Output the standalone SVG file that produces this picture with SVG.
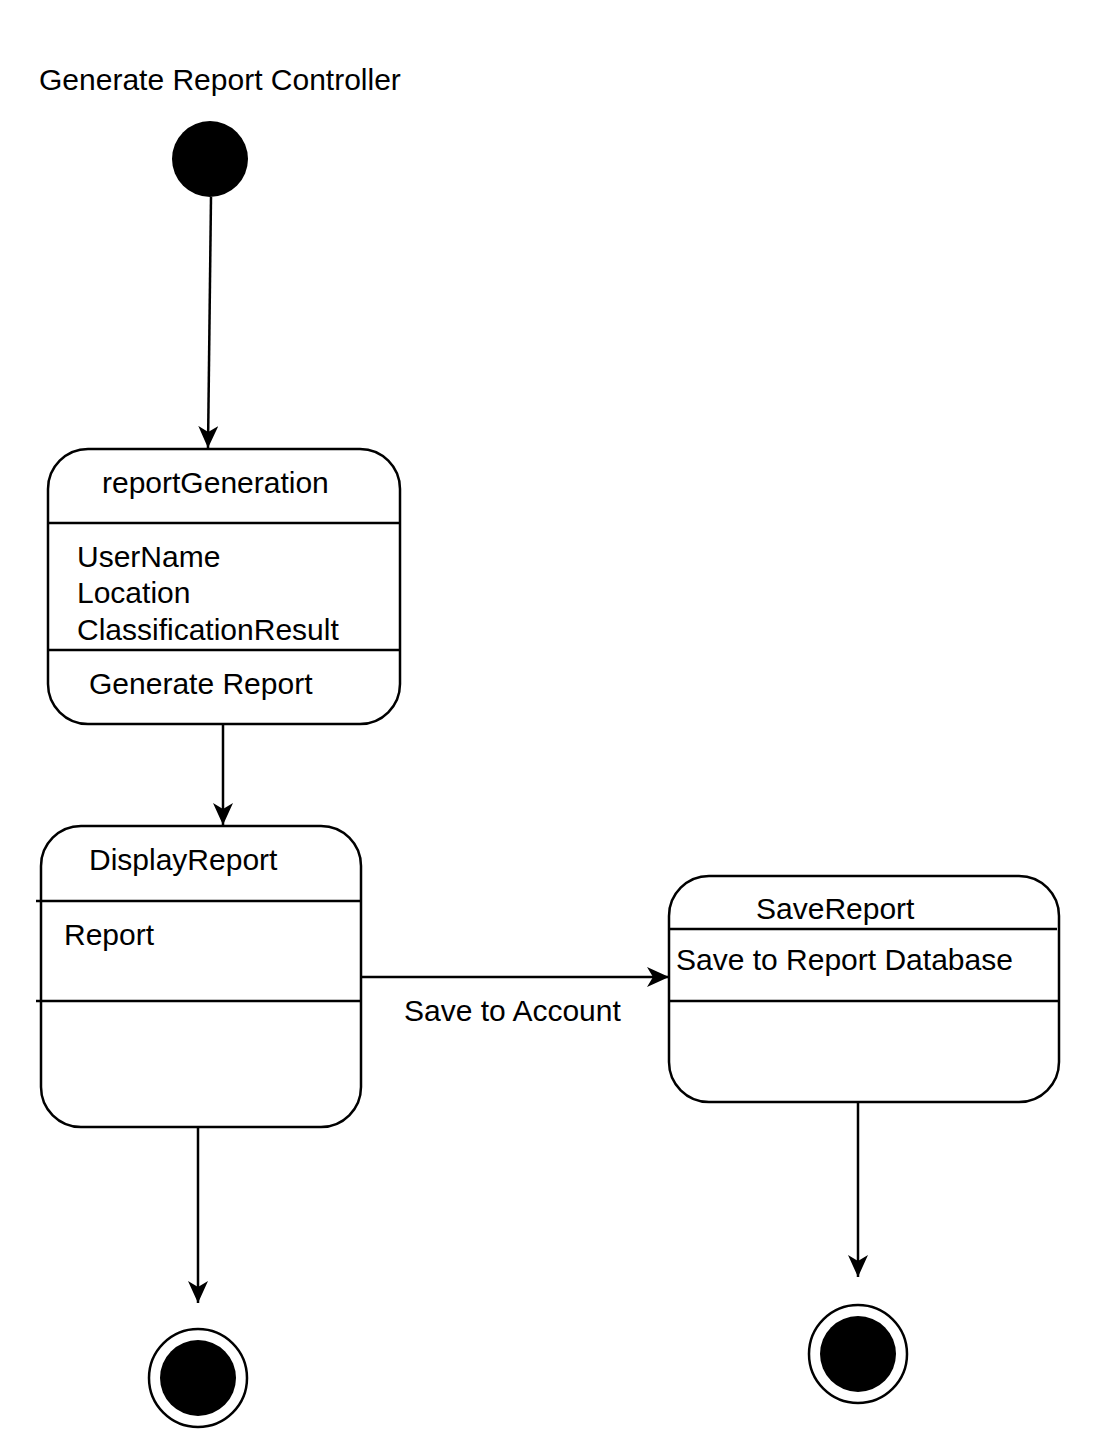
<svg xmlns="http://www.w3.org/2000/svg" width="1098" height="1452" viewBox="0 0 1098 1452">
<style>
text{font-family:"Liberation Sans",Arial,sans-serif;font-size:30px;fill:#000}
.box{fill:#fff;stroke:#000;stroke-width:2.5}
.ln{stroke:#000;stroke-width:2.5;fill:none}
.edge{stroke:#000;stroke-width:2.5;fill:none;marker-end:url(#arr)}
</style>
<defs>
<marker id="arr" markerUnits="userSpaceOnUse" markerWidth="24" markerHeight="22" refX="22" refY="10" orient="auto" viewBox="0 0 24 22">
<path d="M0,0 L22,10 L0,20 L6,10 Z" fill="#000"/>
</marker>
</defs>
<rect width="1098" height="1452" fill="#fff"/>
<text id="title" x="39" y="90">Generate Report Controller</text>
<g id="start"><circle cx="210" cy="159" r="38" fill="#000"/></g>
<g id="reportGeneration">
<rect class="box" x="48" y="449" width="352" height="275" rx="40" ry="40"/>
<line class="ln" x1="48" y1="523" x2="400" y2="523"/>
<line class="ln" x1="48" y1="650" x2="400" y2="650"/>
<text x="102" y="493">reportGeneration</text>
<text x="77" y="567">UserName</text>
<text x="77" y="603">Location</text>
<text x="77" y="640">ClassificationResult</text>
<text x="89" y="694">Generate Report</text>
</g>
<g id="DisplayReport">
<rect class="box" x="41" y="826" width="320" height="301" rx="40" ry="40"/>
<line class="ln" x1="36" y1="901" x2="361" y2="901"/>
<line class="ln" x1="36" y1="1001" x2="361" y2="1001"/>
<text x="89" y="870">DisplayReport</text>
<text x="64" y="945">Report</text>
</g>
<g id="SaveReport">
<rect class="box" x="669" y="876" width="390" height="226" rx="40" ry="40"/>
<line class="ln" x1="669" y1="929" x2="1057" y2="929"/>
<line class="ln" x1="669" y1="1001" x2="1059" y2="1001"/>
<text x="756" y="919">SaveReport</text>
<text x="676" y="970">Save to Report Database</text>
</g>
<g id="end1"><circle cx="198" cy="1378" r="49" fill="#fff" stroke="#000" stroke-width="2.5"/><circle cx="198" cy="1378" r="38" fill="#000"/></g>
<g id="end2"><circle cx="858" cy="1354" r="49" fill="#fff" stroke="#000" stroke-width="2.5"/><circle cx="858" cy="1354" r="38" fill="#000"/></g>
<g id="connectors">
<line class="edge" x1="211" y1="197" x2="208" y2="448"/>
<line class="edge" x1="223" y1="724" x2="223" y2="825"/>
<line class="edge" x1="361" y1="977" x2="669" y2="977"/>
<text x="404" y="1021">Save to Account</text>
<line class="edge" x1="198" y1="1127" x2="198" y2="1303"/>
<line class="edge" x1="858" y1="1102" x2="858" y2="1277"/>
</g>
</svg>
